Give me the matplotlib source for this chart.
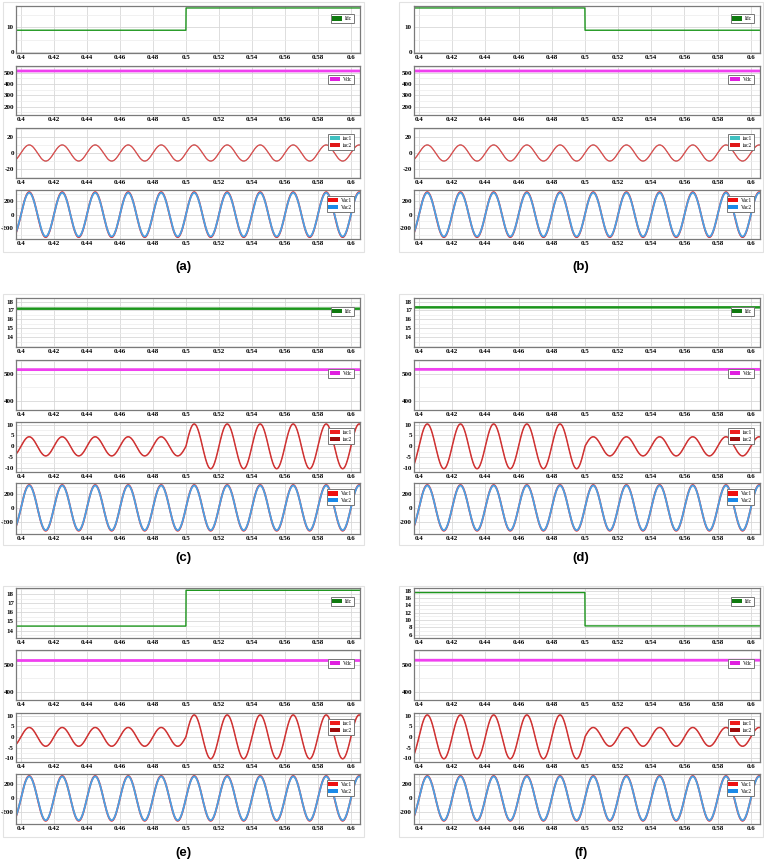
import numpy as np
import matplotlib
matplotlib.use("Agg")
import matplotlib.pyplot as plt
from matplotlib.patches import Rectangle
from matplotlib.ticker import AutoMinorLocator

# ---- values ----
panels = ["(a)", "(b)", "(c)", "(d)", "(e)", "(f)"]
t_step = 0.5          # step change instant [s]
f_grid = 50.0         # line frequency [Hz]

idc_before = [8.8, 17.9, 17.2, 17.35, 14.5, 17.5]
idc_after = [17.9, 8.8, 17.2, 17.35, 18.4, 8.4]
vdc_level = [515, 515, 516, 517, 515, 516]
iac_amp_before = [10.0, 10.0, 4.4, 10.3, 4.4, 10.3]
iac_amp_after = [10.0, 10.0, 10.3, 4.4, 10.3, 4.4]
vac1_amp = [330, 330, 322, 322, 322, 322]
vac2_amp = [320, 320, 314, 314, 314, 314]

idc_ticks = [[0, 10], [0, 10], [14, 15, 16, 17, 18], [14, 15, 16, 17, 18],
             [14, 15, 16, 17, 18], [6, 8, 10, 12, 14, 16, 18]]
idc_ylim = [(-0.5, 18.7), (-0.5, 18.7), (12.9, 18.4), (12.9, 18.4),
            (13.2, 18.65), (5.1, 18.75)]
vdc_ticks = [[200, 300, 400, 500], [200, 300, 400, 500], [400, 500], [400, 500],
             [400, 500], [400, 500]]
vdc_ylim = [(127, 559), (127, 559), (365, 552), (365, 552), (372, 553), (372, 553)]
iac_ticks = [[-20, 0, 20], [-20, 0, 20]] + [[-10, -5, 0, 5, 10]] * 4
iac_ylim = [(-31, 31), (-31, 31)] + [(-11.8, 11.2)] * 4
vac_ticks = [-200, 0, 200]
vac_ylim = [(-357, 361), (-357, 361)] + [(-368, 350)] * 4
x_ticks = [0.4, 0.42, 0.44, 0.46, 0.48, 0.5, 0.52, 0.54, 0.56, 0.58, 0.6]
x_tick_labels = ["0.4", "0.42", "0.44", "0.46", "0.48", "0.5", "0.52",
                 "0.54", "0.56", "0.58", "0.6"]
xlim = (0.397, 0.6055)

# ---- layout (pixels) ----
W, H = 764, 859
col_x = [(16, 360), (414, 760)]
row_y = [[(6, 53), (66, 115), (128, 178), (190, 239)],
         [(298, 347), (360, 410), (422, 472), (483, 534)],
         [(588, 638), (650, 700), (713, 762), (774, 824)]]
box_x = [(3, 364), (399, 763)]
box_y = [(2, 252), (294, 545), (586, 837)]
label_y = [267, 558, 853]

tick_font = dict(family="Liberation Serif", weight="bold", size=5)

fig = plt.figure(figsize=(W / 100, H / 100), dpi=100)

t = np.linspace(xlim[0], xlim[1], 4000)
after = t >= t_step
wave = np.sin(2 * np.pi * f_grid * (t - 0.4))


def add_ax(x0, x1, y0, y1):
    ax = fig.add_axes([x0 / W, 1 - y1 / H, (x1 - x0) / W, (y1 - y0) / H])
    ax.set_xlim(*xlim)
    ax.set_xticks(x_ticks)
    ax.set_xticklabels(x_tick_labels, fontdict=tick_font)
    ax.yaxis.set_minor_locator(AutoMinorLocator(2))
    ax.grid(True, which="major", color="#d8d8d8", lw=0.6)
    ax.grid(True, which="minor", axis="y", color="#ebebeb", lw=0.5)
    ax.tick_params(length=0, pad=1.5)
    ax.tick_params(which="minor", length=0)
    for s in ax.spines.values():
        s.set_color("#7a7a7a")
        s.set_linewidth(0.9)
    ax.set_axisbelow(True)
    return ax


def legend(ax, handles_labels, y=0.9):
    hs = [Rectangle((0, 0), 1, 1, fc=c, ec="none") for c, _ in handles_labels]
    leg = ax.legend(hs, [l for _, l in handles_labels], loc="upper right",
                    bbox_to_anchor=(0.99, y), prop=dict(family="Liberation Serif", size=4),
                    handlelength=1.8, handleheight=0.8, handletextpad=0.4,
                    borderpad=0.35, labelspacing=0.3, fancybox=False,
                    framealpha=1, edgecolor="#777777")
    leg.get_frame().set_linewidth(0.7)


for i, name in enumerate(panels):
    r, c = divmod(i, 2)
    x0, x1 = col_x[c]
    rows = row_y[r]

    # panel frame and label
    bx0, bx1 = box_x[c]
    by0, by1 = box_y[r]
    fig.patches.append(Rectangle((bx0 / W, 1 - by1 / H), (bx1 - bx0) / W, (by1 - by0) / H,
                                 transform=fig.transFigure, fill=False,
                                 ec="#e2e2e2", lw=0.8))
    fig.text((bx0 + bx1) / 2 / W, 1 - label_y[r] / H, name, ha="center", va="center",
             family="Liberation Sans", weight="bold", fontsize=9.5)

    # Idc
    ax = add_ax(x0, x1, *rows[0])
    idc = np.where(after, idc_after[i], idc_before[i])
    lw_idc = 1.8 if idc_before[i] == idc_after[i] else 1.0
    ax.plot(t, idc, color="#1d961d", lw=lw_idc)
    ax.set_ylim(*idc_ylim[i])
    ax.set_yticks(idc_ticks[i])
    ax.set_yticklabels([str(v) for v in idc_ticks[i]], fontdict=tick_font)
    legend(ax, [("#0f7a0f", "Idc")], y=0.88)

    # Vdc
    ax = add_ax(x0, x1, *rows[1])
    ax.plot(t, np.full_like(t, vdc_level[i]), color="#f040f0", lw=2.0)
    ax.set_ylim(*vdc_ylim[i])
    ax.set_yticks(vdc_ticks[i])
    ax.set_yticklabels([str(v) for v in vdc_ticks[i]], fontdict=tick_font)
    legend(ax, [("#e020e0", "Vdc")], y=0.88)

    # iac1, iac2
    ax = add_ax(x0, x1, *rows[2])
    amp = np.where(after, iac_amp_after[i], iac_amp_before[i])
    if i < 2:
        ax.plot(t, amp * wave, color="#3cb8b8", lw=0.6)
        ax.plot(t, amp * wave, color="#e84a4a", lw=0.9)
        legend(ax, [("#40c0c0", "iac1"), ("#e01818", "iac2")], y=0.93)
    else:
        ax.plot(t, amp * wave, color="#e03a3a", lw=1.1)
        ax.plot(t, amp * wave, color="#c03434", lw=0.5)
        legend(ax, [("#ee1c1c", "iac1"), ("#a00c0c", "iac2")], y=0.93)
    ax.set_ylim(*iac_ylim[i])
    ax.set_yticks(iac_ticks[i])
    ax.set_yticklabels([str(v) for v in iac_ticks[i]], fontdict=tick_font)

    # Vac1, Vac2
    ax = add_ax(x0, x1, *rows[3])
    ax.plot(t, vac1_amp[i] * wave, color="#ee2020", lw=1.3)
    ax.plot(t, vac2_amp[i] * wave, color="#4aa2e6", lw=1.3)
    ax.set_ylim(*vac_ylim[i])
    ax.set_yticks(vac_ticks)
    ax.set_yticklabels([str(v) for v in vac_ticks], fontdict=tick_font)
    legend(ax, [("#ee1010", "Vac1"), ("#1a8ae8", "Vac2")], y=0.93)

fig.savefig("out.png", dpi=100)
